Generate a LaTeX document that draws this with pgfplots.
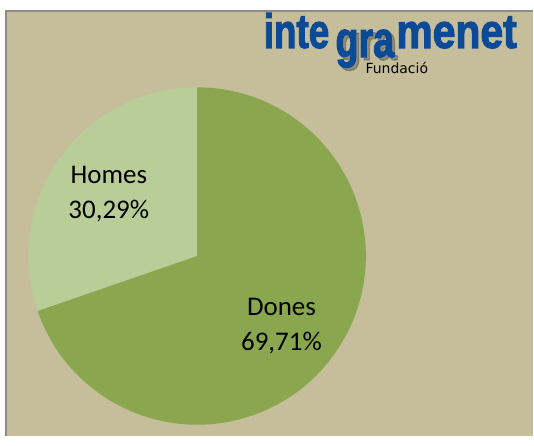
\documentclass[border=0pt]{standalone}
\usepackage{pgfplots}
\usepackage{pgfplotstable}
\pgfplotsset{compat=1.18}
\usepackage{fontspec}
\setmainfont{Carlito}
\newfontfamily\logofont[BoldFeatures={FakeBold=2.5}]{Liberation Sans}
\newfontfamily\subfont{DejaVu Sans}

\definecolor{bgtan}{HTML}{C6BE9A}
\definecolor{homescol}{HTML}{B8CD98}
\definecolor{donescol}{HTML}{8AA64F}
\definecolor{framegray}{HTML}{8C8C8C}
\definecolor{logoblue}{HTML}{0A4A96}

% share of each group, percent
\pgfplotstableread{
label value
Homes 30.29
Dones 69.71
}\piedata

\begin{document}
\begin{tikzpicture}
\pgfplotstablegetelem{0}{value}\of\piedata \let\vhomes\pgfplotsretval
\pgfplotstablegetelem{1}{value}\of\piedata \let\vdones\pgfplotsretval
\pgfmathsetmacro{\asplit}{90+3.6*\vhomes}
\begin{axis}[
  hide axis,
  scale only axis,
  x=1bp, y=1bp,
  xmin=0, xmax=534,
  ymin=0, ymax=437,
  clip=false,
]
  % page background and frame
  \fill[white] (axis cs:0,0) rectangle (axis cs:534,437);
  \fill[bgtan] (axis cs:6,0) rectangle (axis cs:534,425.5);
  \draw[framegray, line width=2bp] (axis cs:6,0) -- (axis cs:6,425.5) -- (axis cs:534,425.5);

  % pie slices
  \fill[homescol] (axis cs:197.5,180.5) -- ++(90:169bp)
      arc[start angle=90, end angle=\asplit, radius=169bp] -- cycle;
  \fill[donescol] (axis cs:197.5,180.5) -- ++(\asplit:169bp)
      arc[start angle=\asplit, end angle=450, radius=169bp] -- cycle;

  % slice labels
  \node[align=center, font=\fontsize{27bp}{35bp}\selectfont]
      at (axis cs:109,243) {Homes\\30,29\%};
  \node[align=center, font=\fontsize{27bp}{35bp}\selectfont]
      at (axis cs:282,110) {Dones\\69,71\%};

  % logo
  \node[anchor=base west, inner sep=0, xscale=0.84, yscale=1.1, text=logoblue,
        font=\logofont\bfseries\fontsize{44bp}{44bp}\selectfont]
      at (axis cs:264,389) {inte};
  \node[anchor=base west, inner sep=0, xscale=0.82, yscale=1.1, text=black!75, opacity=0.4,
        font=\logofont\bfseries\fontsize{46bp}{46bp}\selectfont]
      at (axis cs:339,377) {gra};
  \node[anchor=base west, inner sep=0, xscale=0.82, yscale=1.1, text=logoblue,
        font=\logofont\bfseries\fontsize{46bp}{46bp}\selectfont]
      at (axis cs:336,380) {gra};
  \node[anchor=base west, inner sep=0, xscale=0.93, yscale=1.1, text=logoblue,
        font=\logofont\bfseries\fontsize{44bp}{44bp}\selectfont]
      at (axis cs:397,389) {menet};
  \node[anchor=base west, inner sep=0,
        font=\subfont\fontsize{14bp}{14bp}\selectfont]
      at (axis cs:366,363) {Fundació};
\end{axis}
\end{tikzpicture}
\end{document}
